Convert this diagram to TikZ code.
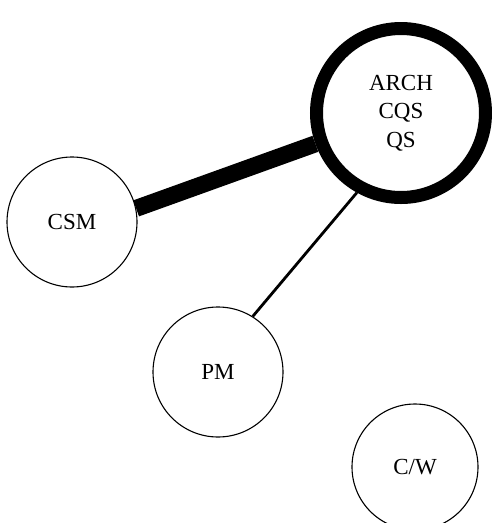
\documentclass[tikz,border=0pt]{standalone}
\usepackage{fontspec}
\setmainfont{Liberation Serif}
\begin{document}
\begin{tikzpicture}[x=1pt,y=-1pt,
  bubble/.style={circle,draw,line width=1.1pt,inner sep=0pt,align=center,
    font=\fontsize{23}{28.5}\selectfont},
  hub/.style={bubble,line width=13pt},
  heavy/.style={line width=17pt},
  light/.style={line width=2.8pt}]
\useasboundingbox (0,0) rectangle (492,523);

% groups
\node[hub,minimum size=169pt] (arch) at (401,113) {ARCH\\CQS\\QS};
\node[bubble,minimum size=130pt] (csm) at (72,222) {CSM};
\node[bubble,minimum size=130pt] (pm) at (218,372) {PM};
\node[bubble,minimum size=126pt] (cw) at (415,467) {C/W};

% links
\draw[heavy] (csm.12) -- (arch);
\draw[light] (pm.58) -- (arch.241);
\end{tikzpicture}
\end{document}
